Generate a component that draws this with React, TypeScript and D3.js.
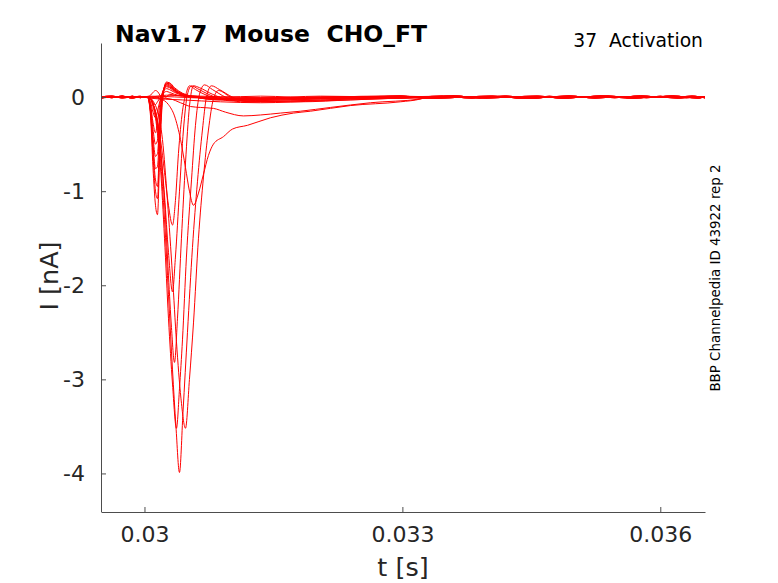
import React, { useEffect, useRef } from 'react';
import * as d3 from 'd3';

type Pt = [number, number];

// axis setup
const xTicks = [0.03, 0.033, 0.036];
const yTicks = [-4, -3, -2, -1, 0];
const xDomain: [number, number] = [0.0295, 0.03652];
const yDomain: [number, number] = [-4.41, 0.575];

// baseline before the step and after the currents have settled
const preTimes = [0.0295, 0.02962, 0.02974, 0.02986, 0.02995];
const preNoise = [
  [0.008, -0.006, 0.01, -0.004, 0.005],
  [-0.01, 0.006, -0.004, 0.009, -0.006],
  [0.004, 0.01, -0.008, 0.002, 0.008],
  [-0.006, -0.002, 0.007, -0.01, 0.003],
];
const postTimes = [
  [0.03325, 0.0336, 0.0339, 0.0342, 0.0345, 0.0348, 0.0351, 0.0354, 0.0357, 0.036, 0.0363, 0.03652],
  [0.03332, 0.03367, 0.03397, 0.03427, 0.03457, 0.03487, 0.03517, 0.03547, 0.03577, 0.03607, 0.03637, 0.03652],
  [0.03339, 0.03374, 0.03404, 0.03434, 0.03464, 0.03494, 0.03524, 0.03554, 0.03584, 0.03614, 0.03644, 0.03652],
  [0.03346, 0.03381, 0.03411, 0.03441, 0.03471, 0.03501, 0.03531, 0.03561, 0.03591, 0.03621, 0.03641, 0.03652],
];
const postNoise = [
  [0.01, -0.01, 0.005, -0.012, 0.008, -0.004, 0.012, -0.008, 0.004, -0.01, 0.006, -0.002],
  [-0.008, 0.012, -0.006, 0.01, -0.012, 0.006, -0.004, 0.01, -0.01, 0.008, -0.006, 0.004],
  [0.004, 0.006, -0.01, 0.002, 0.01, -0.012, 0.004, -0.006, 0.012, -0.004, 0.01, -0.008],
  [-0.012, 0.002, 0.01, -0.006, -0.002, 0.012, -0.01, 0.004, -0.006, 0.012, -0.01, 0.006],
];

// fast, small sweeps (high step voltages) share one time grid
const fastTimes = [
  0.030035, 0.03007, 0.030099, 0.030128, 0.030151, 0.03018, 0.030209, 0.030256,
  0.030291, 0.030349, 0.030442, 0.030593, 0.030884, 0.031349, 0.032047, 0.032977,
];
const fastBump = [0, 0.02, 0.05, 0.07, 0.06, 0.02, -0.02, 0.0, 0.03, 0.02, 0.01, 0.0, 0.0, 0.01, -0.01, 0.0];
const fast1 = [0, -0.02, -0.06, -0.08, -0.05, -0.01, 0.03, 0.06, 0.05, 0.03, 0.01, 0.0, -0.01, -0.01, 0.01, 0.0];
const fast2 = [0, -0.05, -0.16, -0.22, -0.15, -0.04, 0.04, 0.09, 0.08, 0.05, 0.02, 0.0, -0.01, -0.01, -0.01, 0.01];
const fast3 = [0, -0.08, -0.27, -0.38, -0.26, -0.07, 0.05, 0.11, 0.1, 0.06, 0.02, 0.0, -0.02, -0.01, 0.0, -0.01];
const fast4 = [0, -0.1, -0.34, -0.5, -0.46, -0.14, 0.04, 0.12, 0.11, 0.07, 0.03, 0.0, -0.02, -0.02, -0.01, 0.0];
const fast5 = [0, -0.12, -0.42, -0.63, -0.6, -0.2, 0.03, 0.13, 0.12, 0.07, 0.03, 0.0, -0.02, -0.02, 0.0, 0.01];
const fast6 = [0, -0.14, -0.5, -0.76, -0.74, -0.26, 0.02, 0.14, 0.13, 0.08, 0.03, 0.01, -0.02, -0.02, -0.01, -0.01];
const fast7 = [0, -0.15, -0.55, -0.88, -0.95, -0.38, 0.0, 0.15, 0.14, 0.08, 0.03, 0.0, -0.02, -0.02, -0.01, 0.0];
const fast8 = [0, -0.17, -0.62, -1.0, -1.08, -0.45, -0.02, 0.16, 0.15, 0.09, 0.04, 0.0, -0.03, -0.02, 0.0, 0.01];
const fast9 = [0, -0.2, -0.75, -1.15, -1.25, -0.55, -0.05, 0.14, 0.15, 0.1, 0.04, 0.0, -0.03, -0.02, -0.01, -0.01];

// larger, later sweeps
const sweepA: Pt[] = [
  [0.030047, 0], [0.030093, -0.05], [0.03014, -0.2], [0.030186, -0.45], [0.030233, -0.8],
  [0.030279, -1.15], [0.030326, -1.36], [0.03036, -1.1], [0.030395, -0.6], [0.030442, -0.15],
  [0.030488, 0.05], [0.030523, 0.12], [0.030593, 0.08], [0.030721, 0.02], [0.031, -0.03],
  [0.031581, -0.02], [0.032395, -0.01], [0.032977, 0.01],
];
const sweepB: Pt[] = [
  [0.030047, 0], [0.030093, -0.06], [0.03014, -0.22], [0.030186, -0.55], [0.030233, -1.05],
  [0.030279, -1.65], [0.030326, -2.07], [0.03036, -1.7], [0.030407, -1.0], [0.030453, -0.35],
  [0.0305, 0.03], [0.030547, 0.12], [0.030616, 0.09], [0.030767, 0.02], [0.031, -0.04],
  [0.031581, -0.03], [0.032395, -0.01], [0.032977, -0.01],
];
const sweepC: Pt[] = [
  [0.030047, 0], [0.030093, -0.06], [0.03014, -0.22], [0.030186, -0.55], [0.030233, -1.1],
  [0.030279, -1.9], [0.030314, -2.45], [0.030349, -2.82], [0.030384, -2.35], [0.03043, -1.5],
  [0.030477, -0.7], [0.030523, -0.1], [0.03057, 0.12], [0.03064, 0.1], [0.030791, 0.03],
  [0.031058, -0.04], [0.031698, -0.03], [0.032395, -0.01], [0.032977, 0.01],
];
const sweepD: Pt[] = [
  [0.030047, 0], [0.030093, -0.08], [0.03014, -0.3], [0.030186, -0.75], [0.030233, -1.5],
  [0.030279, -2.35], [0.030326, -3.05], [0.030372, -3.52], [0.030407, -3.1], [0.030442, -2.58],
  [0.030488, -1.7], [0.030547, -0.88], [0.030593, -0.3], [0.03064, 0.03], [0.030698, 0.13],
  [0.030791, 0.08], [0.030942, 0], [0.031116, -0.05], [0.031698, -0.04], [0.032395, -0.02],
  [0.032977, 0],
];
const sweepE: Pt[] = [
  [0.030047, 0], [0.030093, -0.06], [0.03014, -0.25], [0.030186, -0.65], [0.030233, -1.3],
  [0.030279, -2.1], [0.030326, -2.9], [0.030366, -3.5], [0.030407, -3.99], [0.030448, -3.35],
  [0.0305, -2.5], [0.030558, -1.6], [0.030616, -0.9], [0.030674, -0.35], [0.030721, 0],
  [0.030779, 0.12], [0.030872, 0.08], [0.031023, 0], [0.031233, -0.05], [0.031814, -0.04],
  [0.032395, -0.02], [0.032977, 0.01],
];
const sweepF: Pt[] = [
  [0.030047, 0], [0.030105, -0.05], [0.030151, -0.15], [0.030209, -0.45], [0.030267, -1.1],
  [0.030326, -1.9], [0.030372, -2.6], [0.030424, -3.2], [0.030477, -3.52], [0.030523, -3.0],
  [0.03057, -2.4], [0.030628, -1.5], [0.030686, -0.85], [0.030744, -0.35], [0.030802, -0.02],
  [0.03086, 0.07], [0.031, 0], [0.031233, -0.05], [0.031814, -0.05], [0.032395, -0.03],
  [0.032977, -0.01],
];
const sweepG: Pt[] = [
  [0.030047, 0], [0.030186, -0.02], [0.030279, -0.08], [0.030349, -0.2], [0.030419, -0.45],
  [0.030477, -0.75], [0.030523, -1.0], [0.03057, -1.15], [0.030628, -1.02], [0.030686, -0.82],
  [0.030744, -0.62], [0.030802, -0.5], [0.030919, -0.42], [0.031023, -0.34], [0.031198, -0.3],
  [0.031465, -0.22], [0.031733, -0.17], [0.03193, -0.15], [0.032395, -0.09], [0.032977, -0.05],
  [0.033209, -0.02],
];
const sweepH: Pt[] = [
  [0.030047, 0], [0.030302, -0.02], [0.030419, -0.06], [0.030535, -0.1], [0.030651, -0.11],
  [0.030802, -0.12], [0.030942, -0.16], [0.031151, -0.2], [0.031349, -0.19], [0.031581, -0.17],
  [0.031814, -0.15], [0.032163, -0.11], [0.032628, -0.06], [0.033209, -0.02],
];
const quiet1: Pt[] = [[0.030047, 0.01], [0.030651, -0.01], [0.031233, -0.02], [0.032047, -0.01], [0.032977, 0.01]];
const quiet2: Pt[] = [[0.030047, -0.01], [0.030442, -0.03], [0.030884, -0.05], [0.031349, -0.06], [0.032047, -0.04], [0.032977, -0.01]];
const quiet3: Pt[] = [[0.030047, 0], [0.030256, 0.02], [0.030651, 0.01], [0.031581, -0.01], [0.032977, 0.01]];

const fastSweeps = [fastBump, fast1, fast2, fast3, fast4, fast5, fast6, fast7, fast8, fast9];
const slowSweeps = [sweepA, sweepB, sweepC, sweepD, sweepE, sweepF, sweepG, sweepH, quiet1, quiet2, quiet3];

const sweeps: Pt[][] = [
  ...fastSweeps.map(v => v.map((y, i) => [fastTimes[i], y] as Pt)),
  ...slowSweeps,
].map((core, k) => [
  ...preTimes.map((t, i) => [t, preNoise[k % 4][i]] as Pt),
  [0.03, 0] as Pt,
  ...core,
  ...postTimes[k % 4].map((t, i) => [t, postNoise[(k + 1) % 4][i]] as Pt),
]);

const W = 778;
const H = 583;
const plot = { left: 101.5, right: 705, top: 43, bottom: 512 };
const FONT = "'DejaVu Sans', sans-serif";

export default function App() {
  const xAxisRef = useRef<SVGGElement>(null);
  const yAxisRef = useRef<SVGGElement>(null);

  const x = d3.scaleLinear().domain(xDomain).range([plot.left, plot.right]);
  const y = d3.scaleLinear().domain(yDomain).range([plot.bottom, plot.top]);

  const line = d3.line<Pt>()
    .x(d => x(d[0]))
    .y(d => y(d[1]))
    .curve(d3.curveMonotoneX);

  useEffect(() => {
    if (!xAxisRef.current || !yAxisRef.current) return;

    const gx = d3.select(xAxisRef.current);
    gx.selectAll('*').remove();
    gx.call(
      d3.axisBottom(x)
        .tickValues(xTicks)
        .tickSize(-5)
        .tickSizeOuter(0)
        .tickPadding(14)
        .tickFormat(d => String(d))
    );
    gx.attr('font-size', 22).attr('font-family', FONT);
    gx.select('.domain').attr('stroke', '#4d4d4d');
    gx.selectAll('.tick line').attr('stroke', '#4d4d4d');
    gx.selectAll('.tick text').attr('fill', '#262626');

    const gy = d3.select(yAxisRef.current);
    gy.selectAll('*').remove();
    gy.call(
      d3.axisLeft(y)
        .tickValues(yTicks)
        .tickSize(-5)
        .tickSizeOuter(0)
        .tickPadding(16)
        .tickFormat(d => String(d))
    );
    gy.attr('font-size', 22).attr('font-family', FONT);
    gy.select('.domain').attr('stroke', '#4d4d4d');
    gy.selectAll('.tick line').attr('stroke', '#4d4d4d');
    gy.selectAll('.tick text').attr('fill', '#262626');
  }, []);

  return (
    <div style={{ position: 'absolute', left: 0, top: 0 }}>
      <svg width={W} height={H} style={{ display: 'block', background: '#fff' }}>
        <defs>
          <clipPath id="plot-clip">
            <rect x={plot.left} y={plot.top} width={plot.right - plot.left} height={plot.bottom - plot.top} />
          </clipPath>
        </defs>

        <g clipPath="url(#plot-clip)">
          {sweeps.map((s, i) => (
            <path key={i} d={line(s) ?? ''} fill="none" stroke="#ff0000" strokeWidth={1} />
          ))}
        </g>

        <g ref={xAxisRef} transform={`translate(0,${plot.bottom})`} />
        <g ref={yAxisRef} transform={`translate(${Math.floor(plot.left)},0)`} />

        <text x={115} y={42} fontFamily={FONT} fontWeight="bold" fontSize={23.5} fill="#000" style={{ whiteSpace: 'pre' }}>
          Nav1.7  Mouse  CHO_FT
        </text>
        <text x={703} y={47} textAnchor="end" fontFamily={FONT} fontSize={18.75} fill="#000" style={{ whiteSpace: 'pre' }}>
          37  Activation
        </text>
        <text transform="translate(720,278) rotate(-90)" textAnchor="middle" fontFamily={FONT} fontSize={13.4} fill="#000">
          BBP Channelpedia ID 43922 rep 2
        </text>
        <text transform="translate(58,276) rotate(-90)" textAnchor="middle" fontFamily={FONT} fontSize={25.5} fill="#262626">
          I [nA]
        </text>
        <text x={403} y={576} textAnchor="middle" fontFamily={FONT} fontSize={25.5} fill="#262626">
          t [s]
        </text>
      </svg>
    </div>
  );
}
